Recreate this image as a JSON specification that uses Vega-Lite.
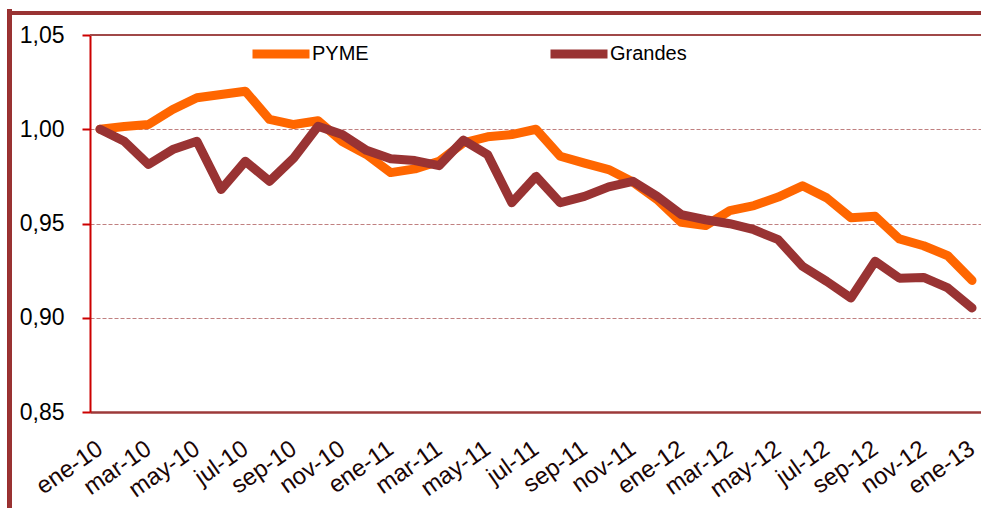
{
  "$schema": "https://vega.github.io/schema/vega-lite/v6.json",
  "width": 891,
  "height": 377,
  "autosize": {"type": "none"},
  "padding": {"left": 90, "top": 35, "right": 0, "bottom": 96},
  "background": "white",
  "config": {
    "view": {"stroke": null},
    "font": "Liberation Sans"
  },
  "data": {
    "values": [
      {"i":0,"mes":"ene-10","serie":"PYME","valor":1.000},
      {"i":1,"mes":"feb-10","serie":"PYME","valor":1.0015},
      {"i":2,"mes":"mar-10","serie":"PYME","valor":1.0025},
      {"i":3,"mes":"abr-10","serie":"PYME","valor":1.0105},
      {"i":4,"mes":"may-10","serie":"PYME","valor":1.0167},
      {"i":5,"mes":"jun-10","serie":"PYME","valor":1.0184},
      {"i":6,"mes":"jul-10","serie":"PYME","valor":1.0202},
      {"i":7,"mes":"ago-10","serie":"PYME","valor":1.0052},
      {"i":8,"mes":"sep-10","serie":"PYME","valor":1.0025},
      {"i":9,"mes":"oct-10","serie":"PYME","valor":1.0045},
      {"i":10,"mes":"nov-10","serie":"PYME","valor":0.9935},
      {"i":11,"mes":"dic-10","serie":"PYME","valor":0.9866},
      {"i":12,"mes":"ene-11","serie":"PYME","valor":0.977},
      {"i":13,"mes":"feb-11","serie":"PYME","valor":0.979},
      {"i":14,"mes":"mar-11","serie":"PYME","valor":0.983},
      {"i":15,"mes":"abr-11","serie":"PYME","valor":0.9928},
      {"i":16,"mes":"may-11","serie":"PYME","valor":0.996},
      {"i":17,"mes":"jun-11","serie":"PYME","valor":0.9972},
      {"i":18,"mes":"jul-11","serie":"PYME","valor":1.000},
      {"i":19,"mes":"ago-11","serie":"PYME","valor":0.9857},
      {"i":20,"mes":"sep-11","serie":"PYME","valor":0.982},
      {"i":21,"mes":"oct-11","serie":"PYME","valor":0.9786},
      {"i":22,"mes":"nov-11","serie":"PYME","valor":0.972},
      {"i":23,"mes":"dic-11","serie":"PYME","valor":0.9627},
      {"i":24,"mes":"ene-12","serie":"PYME","valor":0.9506},
      {"i":25,"mes":"feb-12","serie":"PYME","valor":0.9489},
      {"i":26,"mes":"mar-12","serie":"PYME","valor":0.9568},
      {"i":27,"mes":"abr-12","serie":"PYME","valor":0.9595},
      {"i":28,"mes":"may-12","serie":"PYME","valor":0.964},
      {"i":29,"mes":"jun-12","serie":"PYME","valor":0.970},
      {"i":30,"mes":"jul-12","serie":"PYME","valor":0.9636},
      {"i":31,"mes":"ago-12","serie":"PYME","valor":0.953},
      {"i":32,"mes":"sep-12","serie":"PYME","valor":0.9538},
      {"i":33,"mes":"oct-12","serie":"PYME","valor":0.9418},
      {"i":34,"mes":"nov-12","serie":"PYME","valor":0.9382},
      {"i":35,"mes":"dic-12","serie":"PYME","valor":0.9329},
      {"i":36,"mes":"ene-13","serie":"PYME","valor":0.9198},
      {"i":0,"mes":"ene-10","serie":"Grandes","valor":1.000},
      {"i":1,"mes":"feb-10","serie":"Grandes","valor":0.9936},
      {"i":2,"mes":"mar-10","serie":"Grandes","valor":0.9813},
      {"i":3,"mes":"abr-10","serie":"Grandes","valor":0.9892},
      {"i":4,"mes":"may-10","serie":"Grandes","valor":0.9936},
      {"i":5,"mes":"jun-10","serie":"Grandes","valor":0.968},
      {"i":6,"mes":"jul-10","serie":"Grandes","valor":0.983},
      {"i":7,"mes":"ago-10","serie":"Grandes","valor":0.9724},
      {"i":8,"mes":"sep-10","serie":"Grandes","valor":0.9848},
      {"i":9,"mes":"oct-10","serie":"Grandes","valor":1.0016},
      {"i":10,"mes":"nov-10","serie":"Grandes","valor":0.9972},
      {"i":11,"mes":"dic-10","serie":"Grandes","valor":0.9888},
      {"i":12,"mes":"ene-11","serie":"Grandes","valor":0.9843},
      {"i":13,"mes":"feb-11","serie":"Grandes","valor":0.9834},
      {"i":14,"mes":"mar-11","serie":"Grandes","valor":0.9807},
      {"i":15,"mes":"abr-11","serie":"Grandes","valor":0.9942},
      {"i":16,"mes":"may-11","serie":"Grandes","valor":0.9866},
      {"i":17,"mes":"jun-11","serie":"Grandes","valor":0.961},
      {"i":18,"mes":"jul-11","serie":"Grandes","valor":0.975},
      {"i":19,"mes":"ago-11","serie":"Grandes","valor":0.961},
      {"i":20,"mes":"sep-11","serie":"Grandes","valor":0.9644},
      {"i":21,"mes":"oct-11","serie":"Grandes","valor":0.9694},
      {"i":22,"mes":"nov-11","serie":"Grandes","valor":0.9724},
      {"i":23,"mes":"dic-11","serie":"Grandes","valor":0.9644},
      {"i":24,"mes":"ene-12","serie":"Grandes","valor":0.9547},
      {"i":25,"mes":"feb-12","serie":"Grandes","valor":0.952},
      {"i":26,"mes":"mar-12","serie":"Grandes","valor":0.9499},
      {"i":27,"mes":"abr-12","serie":"Grandes","valor":0.9467},
      {"i":28,"mes":"may-12","serie":"Grandes","valor":0.9414},
      {"i":29,"mes":"jun-12","serie":"Grandes","valor":0.9273},
      {"i":30,"mes":"jul-12","serie":"Grandes","valor":0.9193},
      {"i":31,"mes":"ago-12","serie":"Grandes","valor":0.9105},
      {"i":32,"mes":"sep-12","serie":"Grandes","valor":0.930},
      {"i":33,"mes":"oct-12","serie":"Grandes","valor":0.921},
      {"i":34,"mes":"nov-12","serie":"Grandes","valor":0.9214},
      {"i":35,"mes":"dic-12","serie":"Grandes","valor":0.9158},
      {"i":36,"mes":"ene-13","serie":"Grandes","valor":0.9052}
    ]
  },
  "layer": [
    {
      "mark": {"type": "rule", "color": "#a04848", "strokeWidth": 2},
      "encoding": {
        "y": {"datum": 1.05, "type": "quantitative", "scale": {"domain": [0.85, 1.05], "nice": false, "zero": false}}
      }
    },
    {
      "mark": {"type": "rule", "color": "#993333", "strokeWidth": 4},
      "encoding": {
        "x": {"datum": -3.72, "type": "quantitative"},
        "x2": {"datum": 40},
        "y": {"datum": 1.0617, "type": "quantitative"}
      }
    },
    {
      "mark": {"type": "rule", "color": "#993333", "strokeWidth": 4},
      "encoding": {
        "x": {"datum": -3.72, "type": "quantitative"},
        "y": {"datum": 1.0637, "type": "quantitative"},
        "y2": {"datum": 0.70}
      }
    },
    {
      "transform": [{"filter": "datum.serie === 'PYME'"}],
      "mark": {"type": "line", "strokeWidth": 9, "strokeCap": "round", "strokeJoin": "round"},
      "encoding": {
        "x": {"field": "i", "type": "quantitative"},
        "y": {"field": "valor", "type": "quantitative"},
        "color": {"field": "serie", "type": "nominal"}
      }
    },
    {
      "transform": [{"filter": "datum.serie === 'Grandes'"}],
      "mark": {"type": "line", "strokeWidth": 9, "strokeCap": "round", "strokeJoin": "round"},
      "encoding": {
        "x": {"field": "i", "type": "quantitative"},
        "y": {"field": "valor", "type": "quantitative"},
        "color": {"field": "serie", "type": "nominal"}
      }
    }
  ],
  "encoding": {
    "x": {
      "type": "quantitative",
      "scale": {"domain": [-0.413, 36.37], "nice": false, "zero": false},
      "axis": {
        "title": null,
        "values": [0,2,4,6,8,10,12,14,16,18,20,22,24,26,28,30,32,34,36],
        "labelExpr": "['ene','feb','mar','abr','may','jun','jul','ago','sep','oct','nov','dic'][datum.value % 12] + '-' + (10 + floor(datum.value / 12))",
        "labelAngle": -35,
        "labelAlign": "right",
        "labelBaseline": "middle",
        "labelPadding": 34,
        "labelFontSize": 24,
        "labelColor": "#1a0505",
        "labelOverlap": false,
        "labelFlush": false,
        "ticks": false,
        "grid": false,
        "domain": true,
        "domainColor": "#9c3a3a",
        "domainWidth": 2.5
      }
    },
    "y": {
      "type": "quantitative",
      "scale": {"domain": [0.85, 1.05], "nice": false, "zero": false},
      "axis": {
        "title": null,
        "values": [0.85, 0.9, 0.95, 1.0, 1.05],
        "labelExpr": "replace(format(datum.value, '.2f'), '.', ',')",
        "labelFontSize": 23,
        "labelColor": "#000000",
        "labelPadding": 18,
        "tickSize": 8,
        "tickColor": "#cc0000",
        "tickWidth": 2,
        "domainColor": "#cc0000",
        "domainWidth": 2,
        "grid": true,
        "gridColor": "#c08080",
        "gridDash": [4, 2],
        "gridWidth": 1.2
      }
    },
    "color": {
      "type": "nominal",
      "scale": {"domain": ["PYME", "Grandes"], "range": ["#ff6600", "#993333"]},
      "legend": {
        "title": null,
        "orient": "none",
        "direction": "horizontal",
        "legendX": 158,
        "legendY": -14,
        "padding": 0,
        "symbolType": "stroke",
        "symbolSize": 3249,
        "symbolStrokeWidth": 9,
        "labelFontSize": 20,
        "labelColor": "#000000",
        "labelOffset": -2,
        "columnPadding": 163
      }
    }
  }
}
